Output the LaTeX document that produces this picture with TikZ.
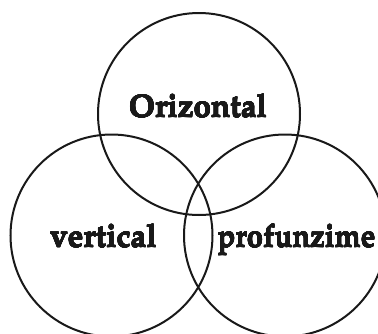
\documentclass[tikz,border=0pt]{standalone}
\usepackage[T1]{fontenc}
\usepackage{mathpazo}
\usepackage[copies]{contour}
\contourlength{0.2pt}
\contournumber{16}
\newcommand{\heavy}[1]{\contour{black!90}{#1}}
\begin{document}
\begin{tikzpicture}[x=1pt,y=-1pt,
  ring/.style={circle,draw=black!90,line width=2pt,minimum size=202pt,inner sep=0pt},
  lbl/.style={anchor=base,inner sep=0pt,font=\fontsize{31.5}{38}\selectfont\bfseries,text=black!90}]
  \useasboundingbox (0,0) rectangle (378,333);
  \clip (0,0) rectangle (378,333);
  % three overlapping sets
  \node[ring] (top)   at (199,114) {};
  \node[ring] (left)  at (111.5,235.5) {};
  \node[ring] (right) at (285,235.5) {};
  % set names, slightly emboldened
  \node[lbl] (hor) at (198,117) {\heavy{Orizontal}};
  \node[lbl] (ver) at (103.5,247) {\heavy{vertical}};
  \node[lbl] (dep) at (296.5,247) {\scalebox{0.93}[1]{\heavy{profunzime}}};
\end{tikzpicture}
\end{document}
